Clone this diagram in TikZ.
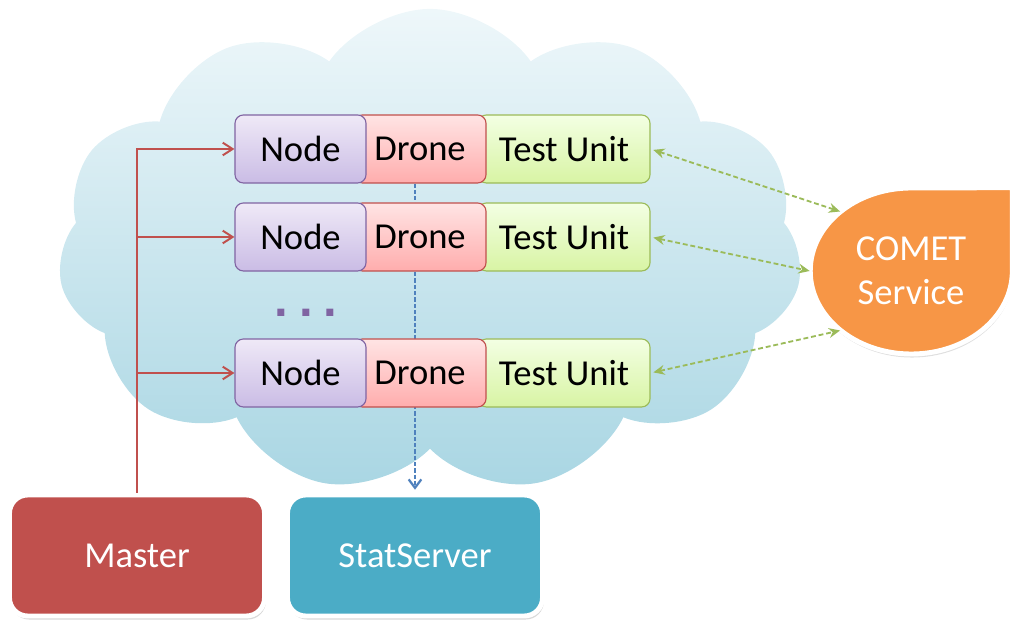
\documentclass[tikz,border=0pt]{standalone}
\usepackage{fontspec}
\setmainfont{Carlito}
\newfontfamily\dotfont{Liberation Sans}
\usetikzlibrary{positioning, arrows.meta, shadows, shapes.geometric, shapes.symbols, calc}
\definecolor{myred}{HTML}{C0504D}
\definecolor{myteal}{HTML}{4BACC6}
\definecolor{myorange}{HTML}{F79646}
\definecolor{mypurple}{HTML}{8064A2}
\definecolor{mygreen}{HTML}{9BBB59}
\definecolor{myblue}{HTML}{4F81BD}
\definecolor{skytop}{HTML}{EEF7FA}
\definecolor{skybottom}{HTML}{A9D6E3}
\definecolor{nodetop}{HTML}{EFE9F7}
\definecolor{nodebottom}{HTML}{CABCE5}
\definecolor{dronetop}{HTML}{FFE4E4}
\definecolor{dronebottom}{HTML}{FFADAD}
\definecolor{tutop}{HTML}{F3FFE3}
\definecolor{tubottom}{HTML}{D8F4A4}
\pgfdeclarelayer{cloudlayer}
\pgfdeclarelayer{linklayer}
\pgfsetlayers{cloudlayer,linklayer,main}

\begin{document}
\begin{tikzpicture}[
    x=0.025cm, y=0.025cm,
    font=\fontsize{26}{31}\selectfont,
    skycloud/.style={
      cloud, cloud puffs=11, cloud puff arc=110, aspect=1.6,
      draw=none, top color=skytop, bottom color=skybottom,
      minimum width=18.6cm, minimum height=12.1cm
    },
    unitbox/.style={
      rectangle, rounded corners=6pt, line width=0.8pt,
      minimum height=1.7cm, inner sep=0pt
    },
    nodebox/.style={unitbox, draw=mypurple, top color=nodetop, bottom color=nodebottom,
      minimum width=3.275cm},
    dronebox/.style={unitbox, draw=myred, top color=dronetop, bottom color=dronebottom,
      minimum width=3.3cm},
    tubox/.style={unitbox, draw=mygreen, top color=tutop, bottom color=tubottom,
      minimum width=4.3cm},
    mainbox/.style={
      rectangle, rounded corners=13pt,
      draw=white, line width=3.5pt, text=white,
      minimum width=6.375cm, minimum height=3.025cm,
      drop shadow={opacity=0.3, shadow xshift=1pt, shadow yshift=-2.5pt}
    },
    cometshape/.style={
      fill=myorange, draw=white, line width=3.5pt,
      drop shadow={opacity=0.25, shadow xshift=0.5pt, shadow yshift=-2.5pt}
    },
    dots/.style={text=mypurple, font=\dotfont\fontsize{35}{35}\selectfont\bfseries, anchor=base},
    masterlink/.style={-{Straight Barb[length=7pt, width=9pt, line width=1.4pt]}, line width=1.3pt, color=myred},
    statlink/.style={-{Straight Barb[length=6pt, width=9pt, line width=1.6pt]}, line width=1.4pt,
      dash pattern=on 3pt off 1.5pt, color=myblue, shorten >=2pt},
    cometlink/.style={{Stealth[length=8pt, width=7pt]}-{Stealth[length=8pt, width=7pt]}, line width=1.3pt,
      dash pattern=on 3.5pt off 2pt, color=mygreen, shorten <=2pt}
  ]
  \useasboundingbox (0,0) rectangle (1024,630);
  % Wolke
  \begin{pgfonlayer}{cloudlayer}
    \node[skycloud] (sky) at (430,379) {};
  \end{pgfonlayer}
  % Master und StatServer
  \node[mainbox, fill=myred]  (master) at (137,74.5) {Master};
  \node[mainbox, fill=myteal] (stat)   at (415,74.5) {StatServer};
  % COMET
  \node[ellipse, minimum width=5.05cm, minimum height=4.15cm, inner sep=0pt,
    align=center, text=white] (comet) at (911,359) {COMET\\Service};
  \begin{pgfonlayer}{linklayer}
    \path[cometshape] (comet.north -| comet.east) -- (comet.east)
      arc[start angle=0, end angle=-270, x radius=2.525cm, y radius=2.075cm] -- cycle;
  \end{pgfonlayer}
  % Zeilen
  \foreach \r/\y in {1/481, 2/393, 3/257} {
    \node[tubox]    (tu\r) at (564,\y)   {Test Unit};
    \node[dronebox] (dr\r) at (420,\y)   {Drone};
    \node[nodebox]  (nd\r) at (300.5,\y) {Node};
  }
  \node[dots] (gap) at (306,313) {.\hspace{7.5pt}.\hspace{7.5pt}.};
  % Verbindungen
  \foreach \r in {1,2,3}
    \draw[masterlink] (master.north) |- (nd\r.west);
  \begin{pgfonlayer}{linklayer}
    \draw[statlink] (dr1.south -| stat.north) -- (stat.north);
  \end{pgfonlayer}
  \draw[cometlink] (tu1.east) -- (comet.140);
  \draw[cometlink] (tu2.east) -- (comet.west);
  \draw[cometlink] (tu3.east) -- (comet.220);
\end{tikzpicture}
\end{document}
